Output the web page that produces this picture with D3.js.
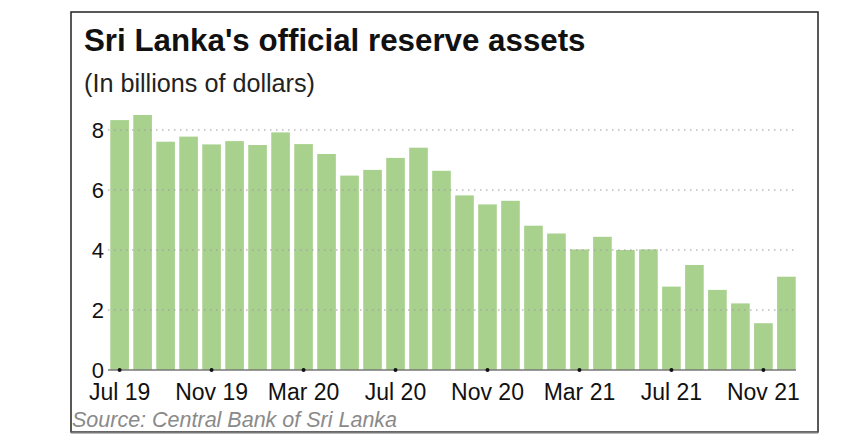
<!DOCTYPE html>
<html>
<head>
<meta charset="utf-8">
<script src="https://cdn.jsdelivr.net/npm/d3@7"></script>
<style>
  body { margin: 0; background: #fff; }
  text { font-family: "Liberation Sans", Arial, sans-serif; }
</style>
</head>
<body>
<div id="chart"></div>
<script>
// months shown as bars, Jul 2019 to Dec 2021
const months = ["Jul 19","Aug 19","Sep 19","Oct 19","Nov 19","Dec 19",
                "Jan 20","Feb 20","Mar 20","Apr 20","May 20","Jun 20",
                "Jul 20","Aug 20","Sep 20","Oct 20","Nov 20","Dec 20",
                "Jan 21","Feb 21","Mar 21","Apr 21","May 21","Jun 21",
                "Jul 21","Aug 21","Sep 21","Oct 21","Nov 21","Dec 21"];
// reserve assets, billions of dollars
const reserves = [8.33, 8.5, 7.61, 7.78, 7.52, 7.63,
                  7.5, 7.92, 7.53, 7.2, 6.48, 6.67,
                  7.07, 7.41, 6.64, 5.82, 5.52, 5.64,
                  4.81, 4.55, 4.02, 4.44, 4.0, 4.02,
                  2.78, 3.5, 2.67, 2.22, 1.56, 3.11];
const xTickLabels = ["Jul 19","Nov 19","Mar 20","Jul 20","Nov 20","Mar 21","Jul 21","Nov 21"];
const yTicks = [0, 2, 4, 6, 8];

const width = 865, height = 447;
const svg = d3.select("#chart").append("svg")
    .attr("width", width)
    .attr("height", height);

// frame
svg.append("rect")
    .attr("x", 71).attr("y", 12)
    .attr("width", 747).attr("height", 420)
    .attr("fill", "#fff")
    .attr("stroke", "#222")
    .attr("stroke-width", 1.5);
svg.append("line")
    .attr("x1", 71).attr("x2", 818)
    .attr("y1", 432.5).attr("y2", 432.5)
    .attr("stroke", "#777").attr("stroke-width", 2);

const x = d3.scaleBand()
    .domain(months)
    .range([108, 798])
    .paddingInner(0.19)
    .paddingOuter(0.1);

const y = d3.scaleLinear()
    .domain([0, 8])
    .range([370, 130]);

//bars
svg.append("g").selectAll("rect")
    .data(months.map((m, i) => ({month: m, value: reserves[i]})))
    .join("rect")
    .attr("x", d => x(d.month))
    .attr("y", d => y(d.value))
    .attr("width", x.bandwidth())
    .attr("height", d => y(0) - y(d.value))
    .attr("fill", "#a9d18e");

//dotted gridlines drawn over the bars
svg.append("g").selectAll("line")
    .data(yTicks.filter(t => t > 0))
    .join("line")
    .attr("x1", 108).attr("x2", 796)
    .attr("y1", d => y(d)).attr("y2", d => y(d))
    .attr("stroke", "#999")
    .attr("stroke-width", 1.2)
    .attr("stroke-dasharray", "1.5,4.5");

// y axis labels
const yAxis = svg.append("g")
    .attr("transform", "translate(104,0)")
    .call(d3.axisLeft(y).tickValues(yTicks).tickSize(0).tickPadding(0));
yAxis.select(".domain").remove();
yAxis.selectAll("text")
    .attr("font-size", 22)
    .attr("fill", "#111")
    .attr("font-family", "Liberation Sans, Arial, sans-serif");

// baseline
svg.append("line")
    .attr("x1", 108).attr("x2", 796)
    .attr("y1", y(0)).attr("y2", y(0))
    .attr("stroke", "#777")
    .attr("stroke-width", 1.5);

// x axis: dots and labels
const xAxis = svg.append("g")
    .attr("transform", `translate(0,${y(0)})`)
    .call(d3.axisBottom(x).tickValues(xTickLabels).tickSize(0).tickPadding(13));
xAxis.select(".domain").remove();
xAxis.selectAll(".tick").append("circle")
    .attr("r", 2)
    .attr("fill", "#111");
xAxis.selectAll("text")
    .attr("font-size", 23)
    .attr("fill", "#111")
    .attr("dy", "0.72em")
    .attr("font-family", "Liberation Sans, Arial, sans-serif");

// titles
svg.append("text")
    .attr("x", 84).attr("y", 51)
    .attr("font-size", 31.3)
    .attr("font-weight", "bold")
    .attr("fill", "#111")
    .text("Sri Lanka's official reserve assets");

svg.append("text")
    .attr("x", 84).attr("y", 92)
    .attr("font-size", 25.2)
    .attr("fill", "#222")
    .text("(In billions of dollars)");

svg.append("text")
    .attr("x", 72).attr("y", 427)
    .attr("font-size", 21.5)
    .attr("font-style", "italic")
    .attr("fill", "#8a8a8a")
    .text("Source: Central Bank of Sri Lanka");
</script>
</body>
</html>
